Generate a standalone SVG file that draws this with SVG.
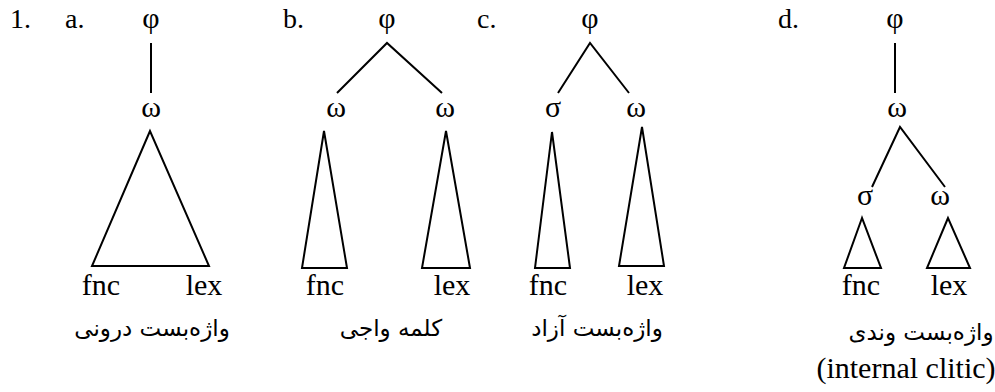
<svg xmlns="http://www.w3.org/2000/svg" width="995" height="392" viewBox="0 0 995 392">
<style>
.t{font-family:"Liberation Serif","Times New Roman",serif;font-size:28px;fill:#000}
.g{font-family:"Liberation Serif","DejaVu Serif",serif;font-size:30px;fill:#000;text-anchor:middle}
.l{font-family:"Liberation Serif",serif;font-size:30px;fill:#000;text-anchor:middle}
.p{font-family:"DejaVu Sans","Noto Sans",sans-serif;font-size:23px;fill:#000;text-anchor:middle;direction:rtl}
.e{fill:none;stroke:#000;stroke-width:2}
</style>
<rect width="995" height="392" fill="#fff"/>
<text class="t" x="10" y="28">1.</text>
<g id="a">
<text class="t" x="65" y="28">a.</text>
<text class="g" x="151" y="28">φ</text>
<text class="g" x="151" y="117">ω</text>
<text class="l" x="101" y="295">fnc</text>
<text class="l" x="204" y="295">lex</text>
<text class="p" x="152" y="336">واژه‌بست درونی</text>
</g>
<g id="b">
<text class="t" x="283" y="28">b.</text>
<text class="g" x="387" y="28">φ</text>
<text class="g" x="336" y="117">ω</text>
<text class="g" x="445" y="117">ω</text>
<text class="l" x="325" y="295">fnc</text>
<text class="l" x="452" y="295">lex</text>
<text class="p" x="391" y="336">کلمه واجی</text>
</g>
<g id="c">
<text class="t" x="477" y="28">c.</text>
<text class="g" x="590" y="28">φ</text>
<text class="g" x="553" y="117">σ</text>
<text class="g" x="636" y="117">ω</text>
<text class="l" x="548" y="295">fnc</text>
<text class="l" x="645" y="295">lex</text>
<text class="p" x="597" y="336">واژه‌بست آزاد</text>
</g>
<g id="d">
<text class="t" x="778" y="28">d.</text>
<text class="g" x="895" y="28">φ</text>
<text class="g" x="897" y="117">ω</text>
<text class="g" x="865" y="205">σ</text>
<text class="g" x="940" y="205">ω</text>
<text class="l" x="861" y="295">fnc</text>
<text class="l" x="949" y="295">lex</text>
<text class="p" x="921" y="340">واژه‌بست وندی</text>
<text class="l" x="906" y="378">(internal clitic)</text>
</g>
<g id="connectors" class="e">
<path d="M151 43V93"/>
<path d="M150 131L92 266H209Z"/>
<path d="M337 93L387 43L442 93"/>
<path d="M324 131L302 268H347Z"/>
<path d="M446 131L422 268H470Z"/>
<path d="M558 93L590 43L629 93"/>
<path d="M552 132L535 268H570Z"/>
<path d="M642 127L619 266H664Z"/>
<path d="M895 43V93"/>
<path d="M872 187L900 127L945 187"/>
<path d="M862 218L844 268H881Z"/>
<path d="M948 218L927 268H970Z"/>
</g>
</svg>
